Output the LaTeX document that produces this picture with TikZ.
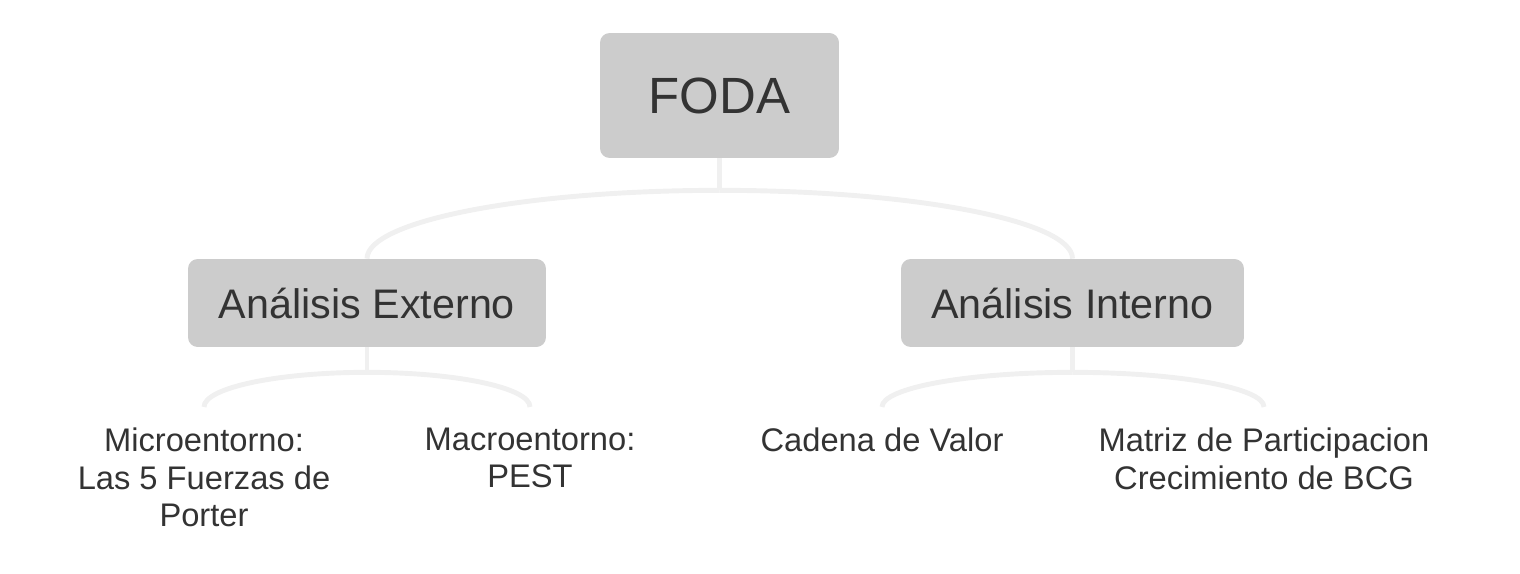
\documentclass[tikz,border=0pt]{standalone}
\usepackage{fontspec}
\setmainfont{Liberation Sans}
\usetikzlibrary{calc}
\definecolor{boxgray}{HTML}{CCCCCC}
\definecolor{linkgray}{HTML}{F0F0F0}
\definecolor{textgray}{HTML}{333333}

\begin{document}
\begin{tikzpicture}[x=0.02cm,y=-0.02cm]
    \tikzstyle{topic}=[rectangle,rounded corners=5.5pt,fill=boxgray,text=textgray,inner sep=0pt]
    \tikzstyle{leaf}=[text=textgray,align=center,anchor=north,inner xsep=0pt,inner ysep=11.5pt,font=\fontsize{18.6}{21.5}\selectfont]
    \tikzstyle{link}=[draw=linkgray,line width=2.8pt]
    % quarter-ellipse from a joint (#1) to a child anchor (#2)
    \newcommand{\branch}[2]{\draw[link] (#1) .. controls ($(#1)!0.552!(#2 |- #1)$) and ($(#2)!0.552!(#2 |- #1)$) .. (#2);}

    \useasboundingbox (0,0) rectangle (1520,574);

    \node[topic, minimum width=4.78cm, minimum height=2.5cm, font=\fontsize{29}{34}\selectfont] (foda) at (719.5,95.5) {FODA};
    \node[topic, minimum width=7.16cm, minimum height=1.76cm, font=\fontsize{23.5}{28}\selectfont] (ext) at (367,303) {Análisis Externo};
    \node[topic, minimum width=6.86cm, minimum height=1.76cm, font=\fontsize{23.5}{28}\selectfont] (int) at (1072.5,303) {Análisis Interno};

    \node[leaf] (micro) at (204,407) {Microentorno:\\Las 5 Fuerzas de\\Porter};
    \node[leaf] (macro) at (530,407) {Macroentorno:\\PEST};
    \node[leaf] (cadena) at (882,407) {Cadena de Valor};
    \node[leaf] (matriz) at (1264,407) {Matriz de Participacion\\Crecimiento de BCG};

    % FODA to the two analyses
    \draw[link] (foda.south) -- ++(0,32) coordinate (fj);
    \branch{fj}{ext.north}
    \branch{fj}{int.north}

    % analyses to the tools
    \draw[link] (ext.south) -- ++(0,25) coordinate (ej);
    \branch{ej}{micro.north}
    \branch{ej}{macro.north}

    \draw[link] (int.south) -- ++(0,25) coordinate (ij);
    \branch{ij}{cadena.north}
    \branch{ij}{matriz.north}
\end{tikzpicture}
\end{document}
